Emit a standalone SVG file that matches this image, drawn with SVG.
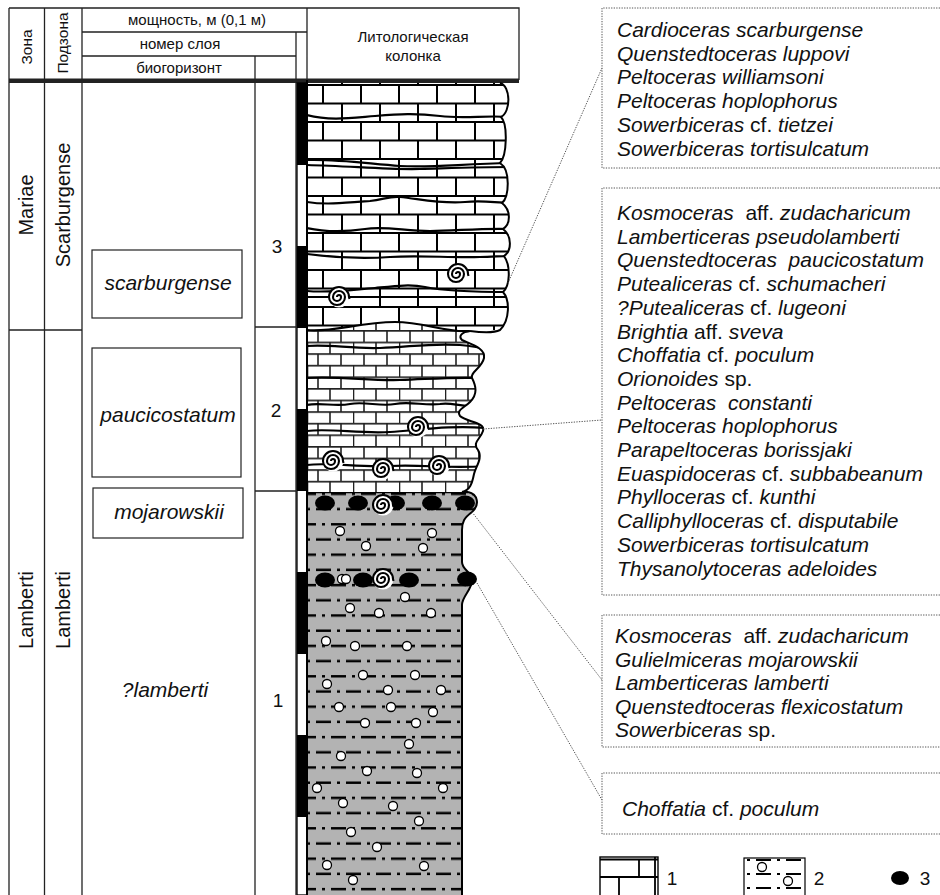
<svg xmlns="http://www.w3.org/2000/svg" xmlns:xlink="http://www.w3.org/1999/xlink" width="940" height="895" viewBox="0 0 940 895">
<style>
  text { font-family: "Liberation Sans", Arial, sans-serif; fill: #111; }
  .hdr { font-size: 15px; text-anchor: middle; }
  .zone { font-size: 20px; text-anchor: middle; }
  .bio { font-size: 21px; font-style: italic; text-anchor: middle; }
  .num { font-size: 19px; text-anchor: middle; }
  .taxa { font-size: 21px; }
  .i { font-style: italic; }
  .grid { fill: none; stroke: #222; stroke-width: 1.3; }
  .box { fill: none; stroke: #222; stroke-width: 1.2; }
  .dot { fill: none; stroke: #555; stroke-width: 1; stroke-dasharray: 1.3 1.3; }
  .edge { fill: none; stroke: #000; stroke-width: 2; }
  .wave { fill: none; stroke: #000; stroke-width: 2.2; }
  .nod { fill: #000; }
  .pebble { fill: #fff; stroke: #000; stroke-width: 1.3; r: 4.5px; }
</style>
<defs>
  <!-- thick-bedded limestone -->
  <pattern id="limeThick" patternUnits="userSpaceOnUse" x="307" y="84" width="76" height="37">
    <rect width="76" height="37" fill="#fff"/>
    <path d="M0,1 H76 M0,19.5 H76 M16,1 V19.5 M54,1 V19.5 M35,19.5 V37 M73,19.5 V37" stroke="#000" stroke-width="2" fill="none"/>
  </pattern>
  <!-- thin-bedded limestone -->
  <pattern id="limeThin" patternUnits="userSpaceOnUse" x="307" y="330" width="46" height="23.2">
    <rect width="46" height="23.2" fill="#fff"/>
    <path d="M0,0.8 H46 M0,12.4 H46 M11,0.8 V12.4 M34,0.8 V12.4 M0.5,12.4 V23.2 M23,12.4 V23.2" stroke="#222" stroke-width="1.6" fill="none"/>
  </pattern>
  <!-- siltstone dash-dot bedding -->
  <pattern id="silt" patternUnits="userSpaceOnUse" x="307" y="501.5" width="30" height="30.4">
    <path d="M0,7.6 H30" stroke="#000" stroke-width="2.4" stroke-dasharray="3 6 15 6" fill="none"/>
    <path d="M0,22.8 H30" stroke="#000" stroke-width="2.4" stroke-dasharray="3 6 15 6" stroke-dashoffset="15" fill="none"/>
  </pattern>
  <g id="amm">
    <g transform="translate(-3,0)">
      <circle cx="3" cy="0" r="10.5" fill="#fff"/>
      <path d="M1,0 A2,2 0 0 1 5,0 A4,4 0 0 1 -3,0 A6,6 0 0 1 9,0 A8,8 0 0 1 -7,0 A10,10 0 0 1 13,0 L13.5,2" fill="none" stroke="#000" stroke-width="2.1"/>
    </g>
  </g>
  <clipPath id="clip3">
    <path d="M307,83 H500 C511,86 511,112 501,117 C508,124 507,156 500,163 C511,170 509,197 502,203 C511,210 511,224 503,229 C512,236 512,251 504,256 C511,266 510,286 503,292 C510,300 510,320 500,330 C485,330 470,331 470,331 C445,333 425,322 395,322 C360,322 330,333 307,330 Z"/>
  </clipPath>
  <clipPath id="clip2">
    <path d="M307,318 H470 L470,331 C462,332 458,336 462,340 C470,344 486,348 484,358 C482,368 470,372 472,378 C476,386 478,394 470,402 C464,408 456,410 460,416 C466,422 486,422 483,431 C480,440 472,442 478,450 C483,458 476,466 474,474 C472,484 470,490 462,492 H307 Z"/>
  </clipPath>
  <clipPath id="clip1">
    <path d="M307,492 H468 C478,494 480,505 472,512 C464,518 462,522 462,530 V562 C462,570 472,572 472,580 C472,590 462,596 462,605 V895 H307 Z"/>
  </clipPath>
</defs>

<rect width="940" height="895" fill="#fff"/>

<!-- table frame and headers -->
<g id="table">
  <path class="grid" d="M9,8 H519 V80 M9,8 V895 M44.5,8 V895 M82,8 V895 M307,8 V895 M82,32 H307 M82,56 H296 M296,32 V895 M255,56 V895 M9,330 H82 M255,327 H296 M255,491 H296"/>
  <rect x="9" y="78.5" width="510" height="4.5" fill="#222"/>
  <text class="hdr" x="197" y="25">мощность, м (0,1 м)</text>
  <text class="hdr" x="180" y="49">номер слоя</text>
  <text class="hdr" x="179" y="73">биогоризонт</text>
  <text class="hdr" x="413" y="42">Литологическая</text>
  <text class="hdr" x="413" y="61">колонка</text>
  <text class="hdr" transform="translate(32,47) rotate(-90)" style="font-size:15.5px">Зона</text>
  <text class="hdr" transform="translate(68,43) rotate(-90)" style="font-size:15.5px">Подзона</text>
</g>

<g id="zones">
  <text class="zone" transform="translate(33,205) rotate(-90)">Mariae</text>
  <text class="zone" transform="translate(70,205) rotate(-90)">Scarburgense</text>
  <text class="zone" transform="translate(33,610) rotate(-90)">Lamberti</text>
  <text class="zone" transform="translate(70,610) rotate(-90)">Lamberti</text>
</g>

<g id="biohorizons">
  <rect class="box" x="92" y="250" width="150" height="68"/>
  <text class="bio" x="168" y="290">scarburgense</text>
  <rect class="box" x="92" y="348" width="149" height="129"/>
  <text class="bio" x="168" y="422">paucicostatum</text>
  <rect class="box" x="93" y="488" width="150" height="50"/>
  <text class="bio" x="169" y="519">mojarowskii</text>
  <text class="bio" x="165" y="697">?lamberti</text>
</g>

<g id="beds">
  <text class="num" x="277" y="253">3</text>
  <text class="num" x="276" y="417">2</text>
  <text class="num" x="278" y="707">1</text>
</g>

<!-- thickness scale, 1 m per segment -->
<g id="scale">
  <rect x="297" y="83" width="10" height="812" fill="#fff" stroke="#000" stroke-width="1.3"/>
  <rect x="297" y="83" width="10" height="82" fill="#000"/>
  <rect x="297" y="246" width="10" height="82" fill="#000"/>
  <rect x="297" y="409" width="10" height="82" fill="#000"/>
  <rect x="297" y="572" width="10" height="82" fill="#000"/>
  <rect x="297" y="735" width="10" height="82" fill="#000"/>
</g>

<!-- lithological column -->
<g id="lithology">
  <!-- bed 1: siltstone -->
  <g clip-path="url(#clip1)">
    <rect x="307" y="490" width="180" height="410" fill="#b3b3b3"/>
    <rect x="307" y="490" width="180" height="410" fill="url(#silt)"/>
    <g class="pebble">
      <circle cx="340" cy="531" r="4.5"/><circle cx="432" cy="533" r="4.5"/><circle cx="366" cy="546" r="4.5"/><circle cx="423" cy="548" r="4.5"/>
      <circle cx="342" cy="579" r="4.5"/><circle cx="405" cy="597" r="4.5"/><circle cx="350" cy="608" r="4.5"/><circle cx="379" cy="613" r="4.5"/>
      <circle cx="431" cy="613" r="4.5"/><circle cx="326" cy="641" r="4.5"/><circle cx="355" cy="646" r="4.5"/><circle cx="407" cy="646" r="4.5"/>
      <circle cx="363" cy="675" r="4.5"/><circle cx="415" cy="675" r="4.5"/><circle cx="327" cy="684" r="4.5"/><circle cx="388" cy="690" r="4.5"/>
      <circle cx="441" cy="690" r="4.5"/><circle cx="339" cy="707" r="4.5"/><circle cx="391" cy="707" r="4.5"/><circle cx="433" cy="712" r="4.5"/>
      <circle cx="365" cy="723" r="4.5"/><circle cx="416" cy="723" r="4.5"/><circle cx="409" cy="744" r="4.5"/><circle cx="341" cy="756" r="4.5"/>
      <circle cx="367" cy="771" r="4.5"/><circle cx="417" cy="773" r="4.5"/><circle cx="317" cy="788" r="4.5"/><circle cx="443" cy="788" r="4.5"/>
      <circle cx="343" cy="803" r="4.5"/><circle cx="393" cy="806" r="4.5"/><circle cx="419" cy="821" r="4.5"/><circle cx="351" cy="832" r="4.5"/>
      <circle cx="377" cy="847" r="4.5"/><circle cx="327" cy="865" r="4.5"/><circle cx="424" cy="866" r="4.5"/><circle cx="353" cy="880" r="4.5"/>
    </g>
  </g>
  <path class="edge" d="M468,492 C478,494 480,505 472,512 C464,518 462,522 462,530 V562 C462,570 472,572 472,580 C472,590 462,596 462,605 V895"/>
  <path d="M307,492 H468" stroke="#000" stroke-width="2.5"/>
  <g class="nod">
    <ellipse cx="325" cy="503" rx="10" ry="7.5"/><ellipse cx="358" cy="503" rx="10" ry="7.5"/><ellipse cx="395" cy="503" rx="10" ry="7.5"/>
    <ellipse cx="432" cy="503" rx="10" ry="7.5"/><ellipse cx="465" cy="503" rx="10" ry="7.5"/>
    <ellipse cx="325" cy="580" rx="10" ry="7.5"/><ellipse cx="363" cy="580" rx="10" ry="7.5"/><ellipse cx="409" cy="580" rx="10" ry="7.5"/>
    <ellipse cx="467" cy="579" rx="10" ry="7.5"/>
  </g>
  <circle class="pebble" cx="346" cy="579" r="4.5"/>
  <use xlink:href="#amm" href="#amm" x="383" y="505"/>
  <use xlink:href="#amm" href="#amm" x="383" y="579"/>

  <!-- bed 2: thin-bedded limestone -->
  <g clip-path="url(#clip2)">
    <rect x="307" y="318" width="185" height="176" fill="url(#limeThin)"/>
    <path class="wave" d="M307,346 C330,344 350,349 380,348 C410,347 430,343 460,345 C470,346 478,347 486,349"/>
    <path class="wave" d="M307,378 C340,376 370,381 400,380 C430,379 450,377 480,378"/>
    <path class="wave" d="M307,405 C320,402 335,407 350,404 C365,401 380,407 395,404 C410,401 425,406 440,404 C450,402 458,406 470,406"/>
    <path class="wave" d="M307,431 C330,428 360,434 390,432 C420,430 450,425 486,428"/>
    <path class="wave" d="M307,465 C330,462 360,468 390,466 C420,464 450,469 484,466"/>
  </g>
  <path class="edge" d="M470,331 C462,332 458,336 462,340 C470,344 486,348 484,358 C482,368 470,372 472,378 C476,386 478,394 470,402 C464,408 456,410 460,416 C466,422 486,422 483,431 C480,440 472,442 478,450 C483,458 476,466 474,474 C472,484 470,490 462,492"/>
  <use xlink:href="#amm" href="#amm" x="418" y="427"/>
  <use xlink:href="#amm" href="#amm" x="333" y="461"/>
  <use xlink:href="#amm" href="#amm" x="383" y="469"/>
  <use xlink:href="#amm" href="#amm" x="439" y="466"/>

  <!-- bed 3: thick-bedded limestone -->
  <g clip-path="url(#clip3)">
    <rect x="307" y="83" width="210" height="252" fill="url(#limeThick)"/>
    <path class="wave" d="M307,115 C330,121 350,118 375,116 C400,114 415,113 440,116 C465,119 485,115 510,117"/>
    <path class="wave" d="M307,160 C340,159 370,164 400,166 C430,168 460,164 510,163"/>
    <path class="wave" d="M307,165 C350,166 390,170 420,169 C455,168 480,167 510,167"/>
    <path class="wave" d="M307,202 C325,205 345,203 370,201 C385,199 390,196 400,197 C420,199 440,204 465,202 C485,200 495,203 510,203"/>
    <path class="wave" d="M307,228 C325,232 345,232 365,229 C385,226 405,231 430,231 C455,231 480,228 510,229"/>
    <path class="wave" d="M307,254 C330,257 360,259 390,257 C420,255 450,258 480,257 C492,257 500,256 510,256"/>
    <path class="wave" d="M307,291 C330,293 350,290 375,288 C395,286 410,284 425,287 C445,291 475,292 510,292"/>
    <path class="wave" d="M307,297 H510"/>
  </g>
  <path class="wave" d="M307,330 C330,333 360,322 395,322 C425,322 445,333 470,331"/>
  <path class="edge" d="M500,83 C511,86 511,112 501,117 C508,124 507,156 500,163 C511,170 509,197 502,203 C511,210 511,224 503,229 C512,236 512,251 504,256 C511,266 510,286 503,292 C510,300 510,320 500,330 C494,333 478,332 470,331"/>
  <use xlink:href="#amm" href="#amm" x="458" y="274"/>
  <use xlink:href="#amm" href="#amm" x="339" y="297"/>
  <path d="M307,80 V895" stroke="#000" stroke-width="2"/>
</g>

<!-- leader lines from beds to fossil lists -->
<g id="connectors" class="dot">
  <path d="M508,283 L602,68"/>
  <path d="M483,429 L602,420"/>
  <path d="M472,512 L602,680"/>
  <path d="M477,583 L602,800"/>
</g>

<g id="taxa-bed3">
  <path class="dot" d="M940,8 H602 V168 H940"/>
  <text class="taxa i" x="617" y="37">Cardioceras scarburgense</text>
  <text class="taxa i" x="617" y="60.7">Quenstedtoceras luppovi</text>
  <text class="taxa i" x="617" y="84.4">Peltoceras williamsoni</text>
  <text class="taxa i" x="617" y="108.1">Peltoceras hoplophorus</text>
  <text class="taxa" x="617" y="131.8"><tspan class="i">Sowerbiceras</tspan> cf. <tspan class="i">tietzei</tspan></text>
  <text class="taxa i" x="617" y="155.5">Sowerbiceras tortisulcatum</text>
</g>

<g id="taxa-bed2">
  <path class="dot" d="M940,188 H602 V595 H940"/>
  <text class="taxa" x="617" y="220" xml:space="preserve"><tspan class="i">Kosmoceras</tspan>  aff. <tspan class="i">zudacharicum</tspan></text>
  <text class="taxa i" x="617" y="243.7">Lamberticeras pseudolamberti</text>
  <text class="taxa i" x="617" y="267.4" xml:space="preserve">Quenstedtoceras  paucicostatum</text>
  <text class="taxa" x="617" y="291.1"><tspan class="i">Putealiceras</tspan> cf. <tspan class="i">schumacheri</tspan></text>
  <text class="taxa" x="617" y="314.8"><tspan class="i">?Putealiceras</tspan> cf. <tspan class="i">lugeoni</tspan></text>
  <text class="taxa" x="617" y="338.5"><tspan class="i">Brightia</tspan> aff. <tspan class="i">sveva</tspan></text>
  <text class="taxa" x="617" y="362.2"><tspan class="i">Choffatia</tspan> cf. <tspan class="i">poculum</tspan></text>
  <text class="taxa" x="617" y="385.9"><tspan class="i">Orionoides</tspan> sp.</text>
  <text class="taxa i" x="617" y="409.6" xml:space="preserve">Peltoceras  constanti</text>
  <text class="taxa i" x="617" y="433.3">Peltoceras hoplophorus</text>
  <text class="taxa i" x="617" y="457">Parapeltoceras borissjaki</text>
  <text class="taxa" x="617" y="480.7"><tspan class="i">Euaspidoceras</tspan> cf. <tspan class="i">subbabeanum</tspan></text>
  <text class="taxa" x="617" y="504.4"><tspan class="i">Phylloceras</tspan> cf. <tspan class="i">kunthi</tspan></text>
  <text class="taxa" x="617" y="528.1"><tspan class="i">Calliphylloceras</tspan> cf. <tspan class="i">disputabile</tspan></text>
  <text class="taxa i" x="617" y="551.8">Sowerbiceras tortisulcatum</text>
  <text class="taxa i" x="617" y="575.5">Thysanolytoceras adeloides</text>
</g>

<g id="taxa-bed1-top">
  <path class="dot" d="M940,615 H602 V747 H940"/>
  <text class="taxa" x="615" y="643" xml:space="preserve"><tspan class="i">Kosmoceras</tspan>  aff. <tspan class="i">zudacharicum</tspan></text>
  <text class="taxa i" x="615" y="666.5">Gulielmiceras mojarowskii</text>
  <text class="taxa i" x="615" y="690">Lamberticeras lamberti</text>
  <text class="taxa i" x="615" y="713.5">Quenstedtoceras flexicostatum</text>
  <text class="taxa" x="615" y="737"><tspan class="i">Sowerbiceras</tspan> sp.</text>
</g>

<g id="taxa-bed1-mid">
  <path class="dot" d="M940,773 H602 V834 H940"/>
  <text class="taxa" x="622" y="816"><tspan class="i">Choffatia</tspan> cf. <tspan class="i">poculum</tspan></text>
</g>

<!-- legend -->
<g id="legend">
  <rect x="600" y="857" width="58" height="45" fill="#fff" stroke="#000" stroke-width="1.4"/>
  <path d="M600,859.5 H658 M600,877 H658 M639,859.5 V877 M619,877 V895 M655,857 V895" stroke="#000" stroke-width="1.8" fill="none"/>
  <text class="num" x="672" y="885">1</text>
  <rect x="744" y="858" width="61" height="45" fill="#fff" stroke="#000" stroke-width="1.2"/>
  <path d="M747,860 H803 M747,874 H803 M747,888 H803" stroke="#000" stroke-width="2.2" stroke-dasharray="3 6 15 6" fill="none"/>
  <circle class="pebble" cx="762" cy="867" r="4.5"/>
  <circle class="pebble" cx="788" cy="881" r="4.5"/>
  <text class="num" x="819" y="885">2</text>
  <ellipse class="nod" cx="900" cy="878" rx="9" ry="7"/>
  <text class="num" x="925" y="885">3</text>
</g>
</svg>
